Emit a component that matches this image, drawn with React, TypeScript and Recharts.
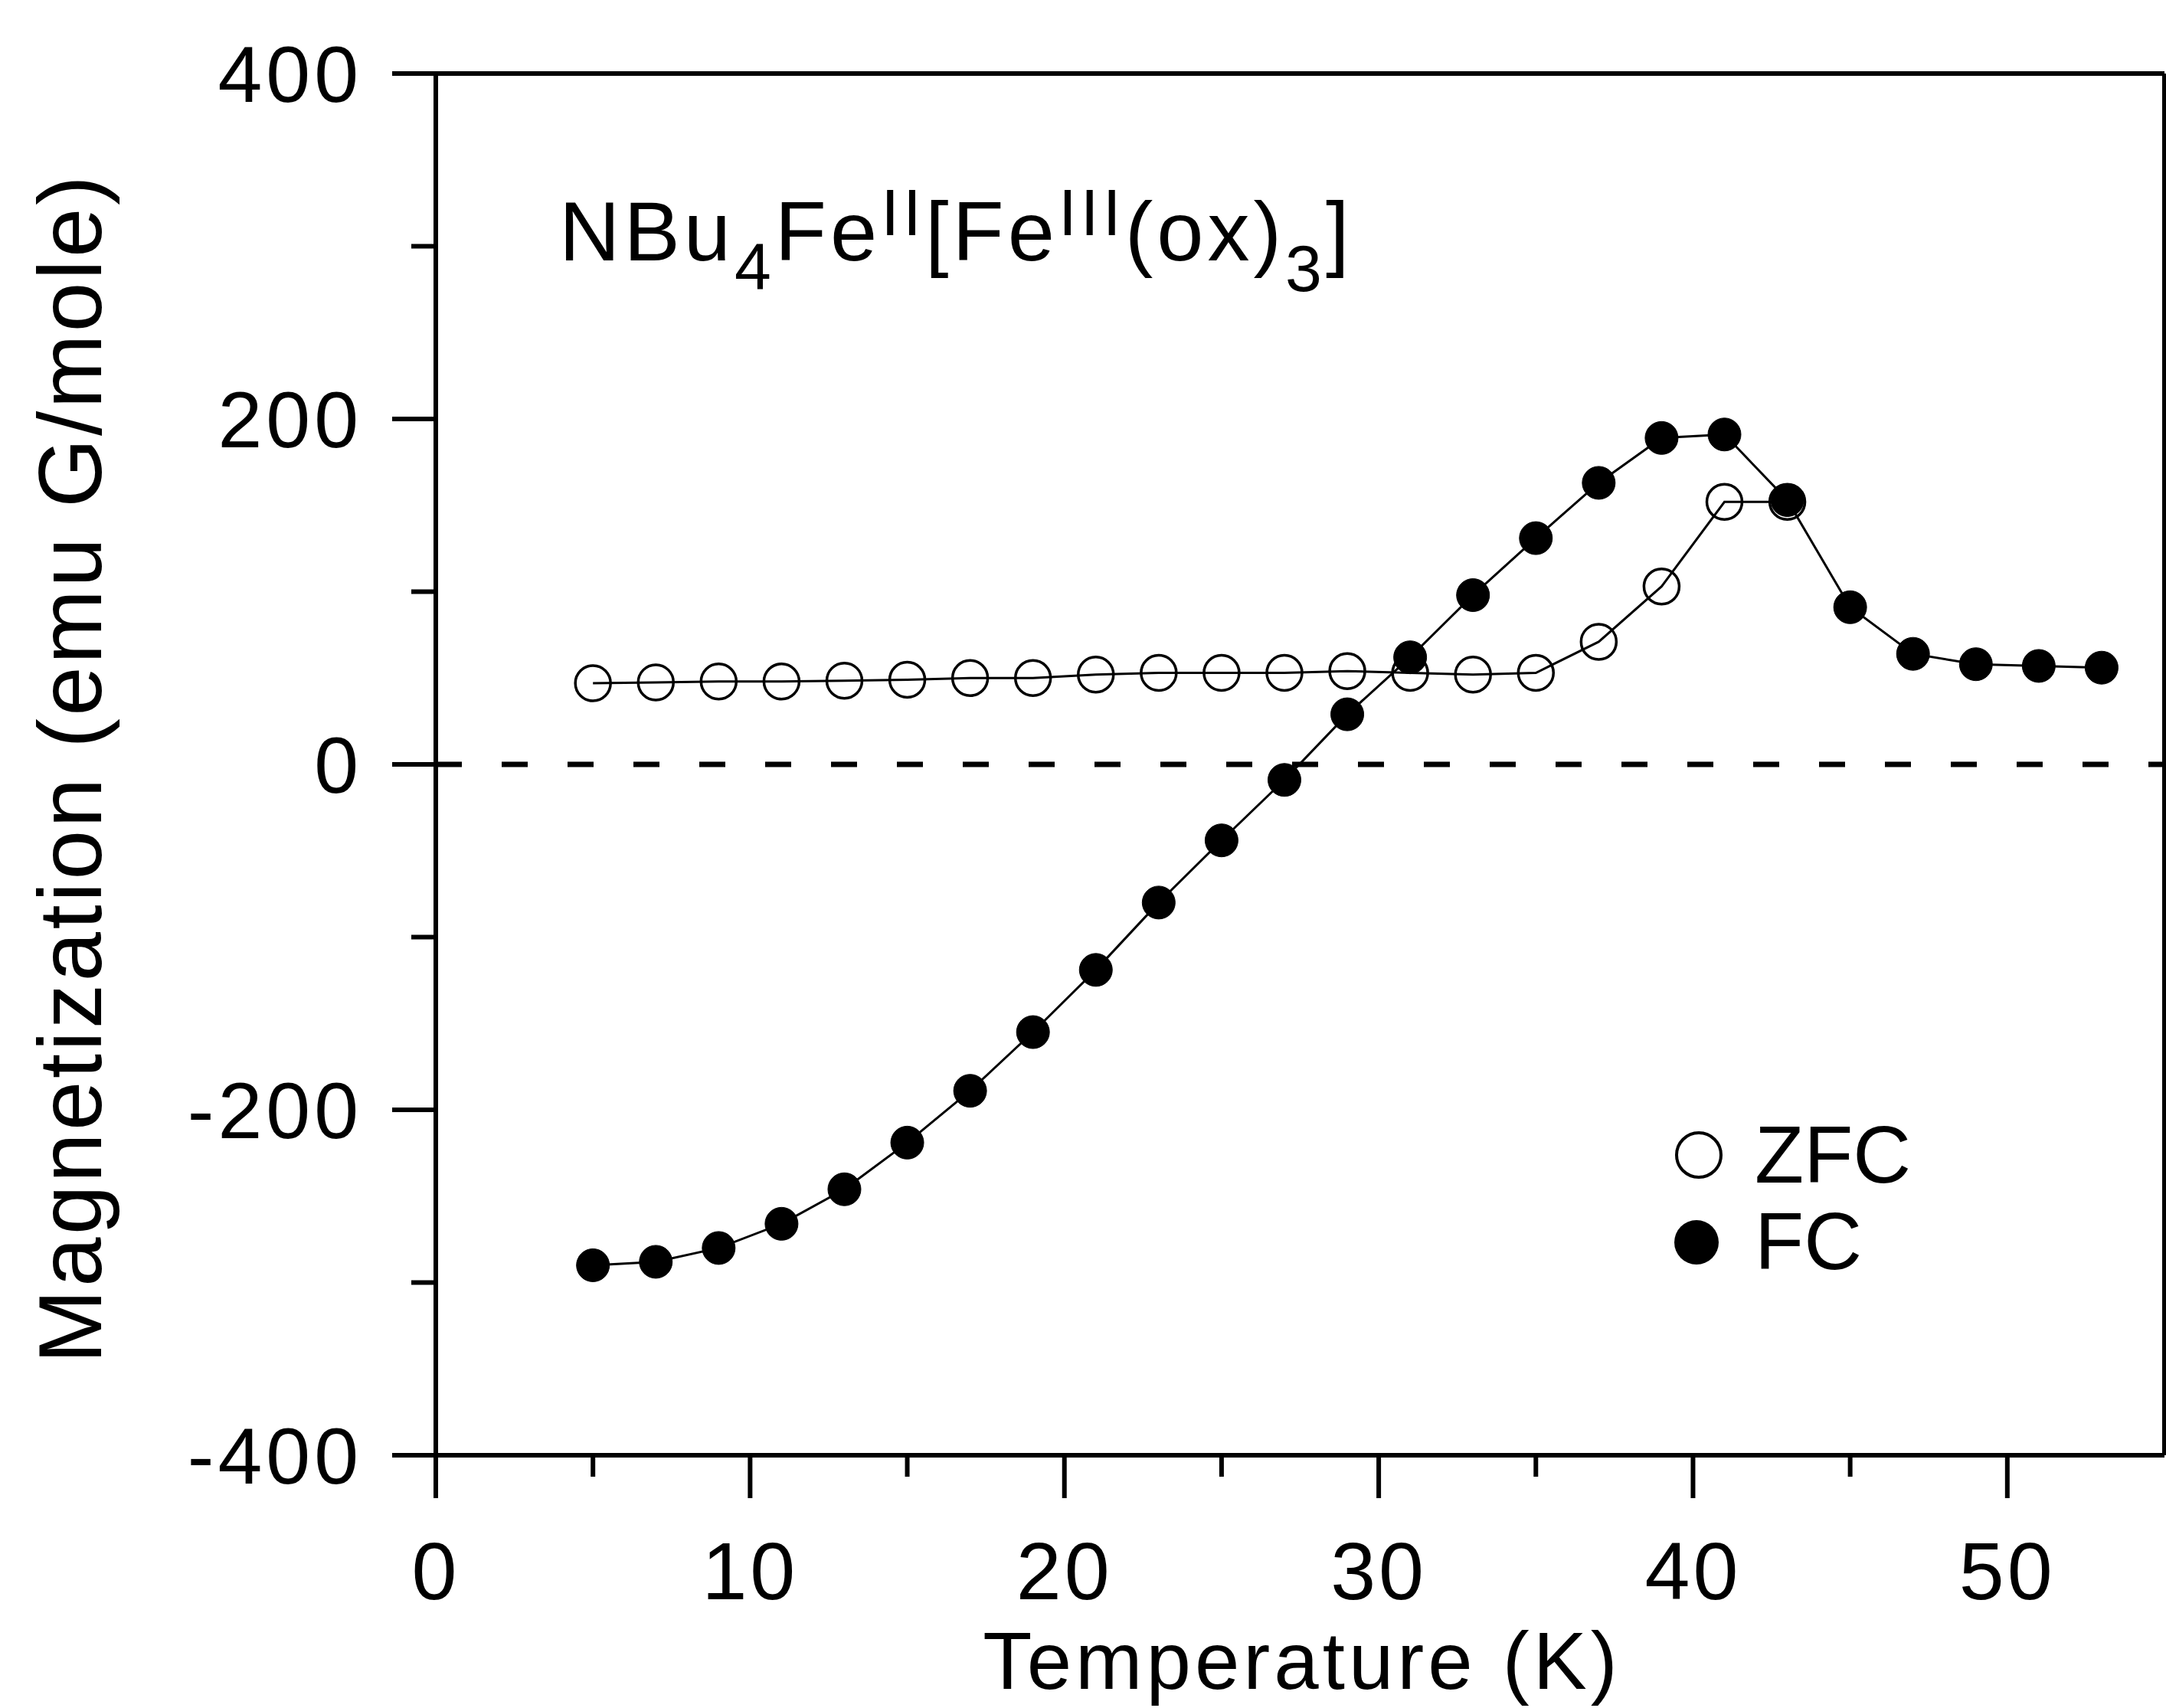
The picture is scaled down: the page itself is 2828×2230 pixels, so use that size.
import React from "react";
import {
  LineChart,
  Line,
  XAxis,
  YAxis,
  ReferenceLine,
  Legend,
  Customized,
} from "recharts";

// Temperature (K) of each measurement
const zfcTemps = [5, 7, 9, 11, 13, 15, 17, 19, 21, 23, 25, 27, 29, 31, 33, 35, 37, 39, 41, 43];
const zfcValues = [47, 47.5, 48, 48, 48.5, 49, 50, 50, 52, 53, 53, 53, 54, 53, 52, 53, 71, 103, 152, 152];

const fcTemps = [5, 7, 9, 11, 13, 15, 17, 19, 21, 23, 25, 27, 29, 31, 33, 35, 37, 39, 41, 43, 45, 47, 49, 51, 53];
const fcValues = [-290, -288, -280, -266, -246, -219, -189, -155, -119, -80, -44, -9, 29, 62, 98, 131, 163, 189, 191, 153, 91, 64, 58, 57, 56];

const xTicks = [0, 5, 10, 15, 20, 25, 30, 35, 40, 45, 50];
const yTicks = [-400, -300, -200, -100, 0, 100, 200, 300, 400];

const zfcData = zfcTemps.map((t, i) => ({ t, m: zfcValues[i] }));
const fcData = fcTemps.map((t, i) => ({ t, m: fcValues[i] }));

const FONT = "'Liberation Sans', Arial, Helvetica, sans-serif";

const YTick = (props: any) => {
  const { x, y, payload } = props;
  const major = payload.value % 200 === 0;
  const len = major ? 57 : 32;
  return (
    <g>
      <line x1={x - len} x2={x} y1={y} y2={y} stroke="#000" strokeWidth={6} />
      {major && (
        <text
          x={x - 96}
          y={y + 37}
          textAnchor="end"
          fontFamily={FONT}
          fontSize={104}
          letterSpacing={5}
          fill="#000"
        >
          {payload.value}
        </text>
      )}
    </g>
  );
};

const XTick = (props: any) => {
  const { x, y, payload } = props;
  const major = payload.value % 10 === 0;
  const len = major ? 56 : 28;
  return (
    <g>
      <line x1={x} x2={x} y1={y} y2={y + len} stroke="#000" strokeWidth={6} />
      {major && (
        <text
          x={x}
          y={y + 188}
          textAnchor="middle"
          fontFamily={FONT}
          fontSize={106}
          letterSpacing={4}
          fill="#000"
        >
          {payload.value}
        </text>
      )}
    </g>
  );
};

// compound name plus the two axis titles
const Titles = () => (
  <g fontFamily={FONT} fill="#000">
    <text x={730} y={340} fontSize={110} letterSpacing={5}>
      <tspan>NBu</tspan>
      <tspan y={377} fontSize={86}>4</tspan>
      <tspan y={340}>Fe</tspan>
      <tspan y={307} fontSize={86}>II</tspan>
      <tspan y={340}>[Fe</tspan>
      <tspan y={307} fontSize={86}>III</tspan>
      <tspan y={340}>(ox)</tspan>
      <tspan y={380} fontSize={86}>3</tspan>
      <tspan y={340}>]</tspan>
    </text>
    <text
      transform="rotate(-90)"
      x={-1003}
      y={132}
      textAnchor="middle"
      fontSize={116}
      letterSpacing={3.5}
    >
      Magnetization (emu G/mole)
    </text>
    <text x={1700} y={2205} textAnchor="middle" fontSize={105} letterSpacing={5}>
      Temperature (K)
    </text>
  </g>
);

const LegendBox = () => (
  <svg width={420} height={260} style={{ display: "block", overflow: "visible" }}>
    <circle cx={38} cy={48} r={29} fill="none" stroke="#000" strokeWidth={4} />
    <text x={111} y={84} fontFamily={FONT} fontSize={105} fill="#000">
      ZFC
    </text>
    <circle cx={35} cy={162} r={29} fill="#000" />
    <text x={111} y={197} fontFamily={FONT} fontSize={105} fill="#000">
      FC
    </text>
  </svg>
);

export default function App() {
  return (
    <div style={{ position: "absolute", left: 0, top: 0, width: 2828, height: 2230, background: "#fff" }}>
      <LineChart width={2828} height={2230} margin={{ top: 96, right: 2, left: 0, bottom: 0 }}>
        <XAxis
          type="number"
          dataKey="t"
          domain={[0, 55]}
          ticks={xTicks}
          interval={0}
          height={330}
          tickSize={0}
          tickMargin={0}
          tickLine={false}
          tick={<XTick />}
          axisLine={{ stroke: "#000", strokeWidth: 6 }}
          allowDataOverflow
        />
        <YAxis
          type="number"
          domain={[-400, 400]}
          ticks={yTicks}
          interval={0}
          width={569}
          tickSize={0}
          tickMargin={0}
          tickLine={false}
          tick={<YTick />}
          axisLine={{ stroke: "#000", strokeWidth: 6 }}
          allowDataOverflow
        />
        <ReferenceLine y={0} stroke="#000" strokeWidth={7} strokeDasharray="34 52" />
        <ReferenceLine y={400} stroke="#000" strokeWidth={6} />
        <ReferenceLine x={55} stroke="#000" strokeWidth={6} />
        <Line
          data={zfcData}
          dataKey="m"
          name="ZFC"
          stroke="#000"
          strokeWidth={3}
          dot={{ r: 23, fill: "none", stroke: "#000", strokeWidth: 3.5 }}
          activeDot={false}
          isAnimationActive={false}
        />
        <Line
          data={fcData}
          dataKey="m"
          name="FC"
          stroke="#000"
          strokeWidth={3}
          dot={{ r: 21.5, fill: "#000", stroke: "#000", strokeWidth: 1 }}
          activeDot={false}
          isAnimationActive={false}
        />
        <Legend
          layout="vertical"
          align="center"
          verticalAlign="middle"
          wrapperStyle={{ left: 2180, top: 1460, width: 420, height: 260 }}
          content={() => <LegendBox />}
        />
        <Customized component={Titles} />
      </LineChart>
    </div>
  );
}
